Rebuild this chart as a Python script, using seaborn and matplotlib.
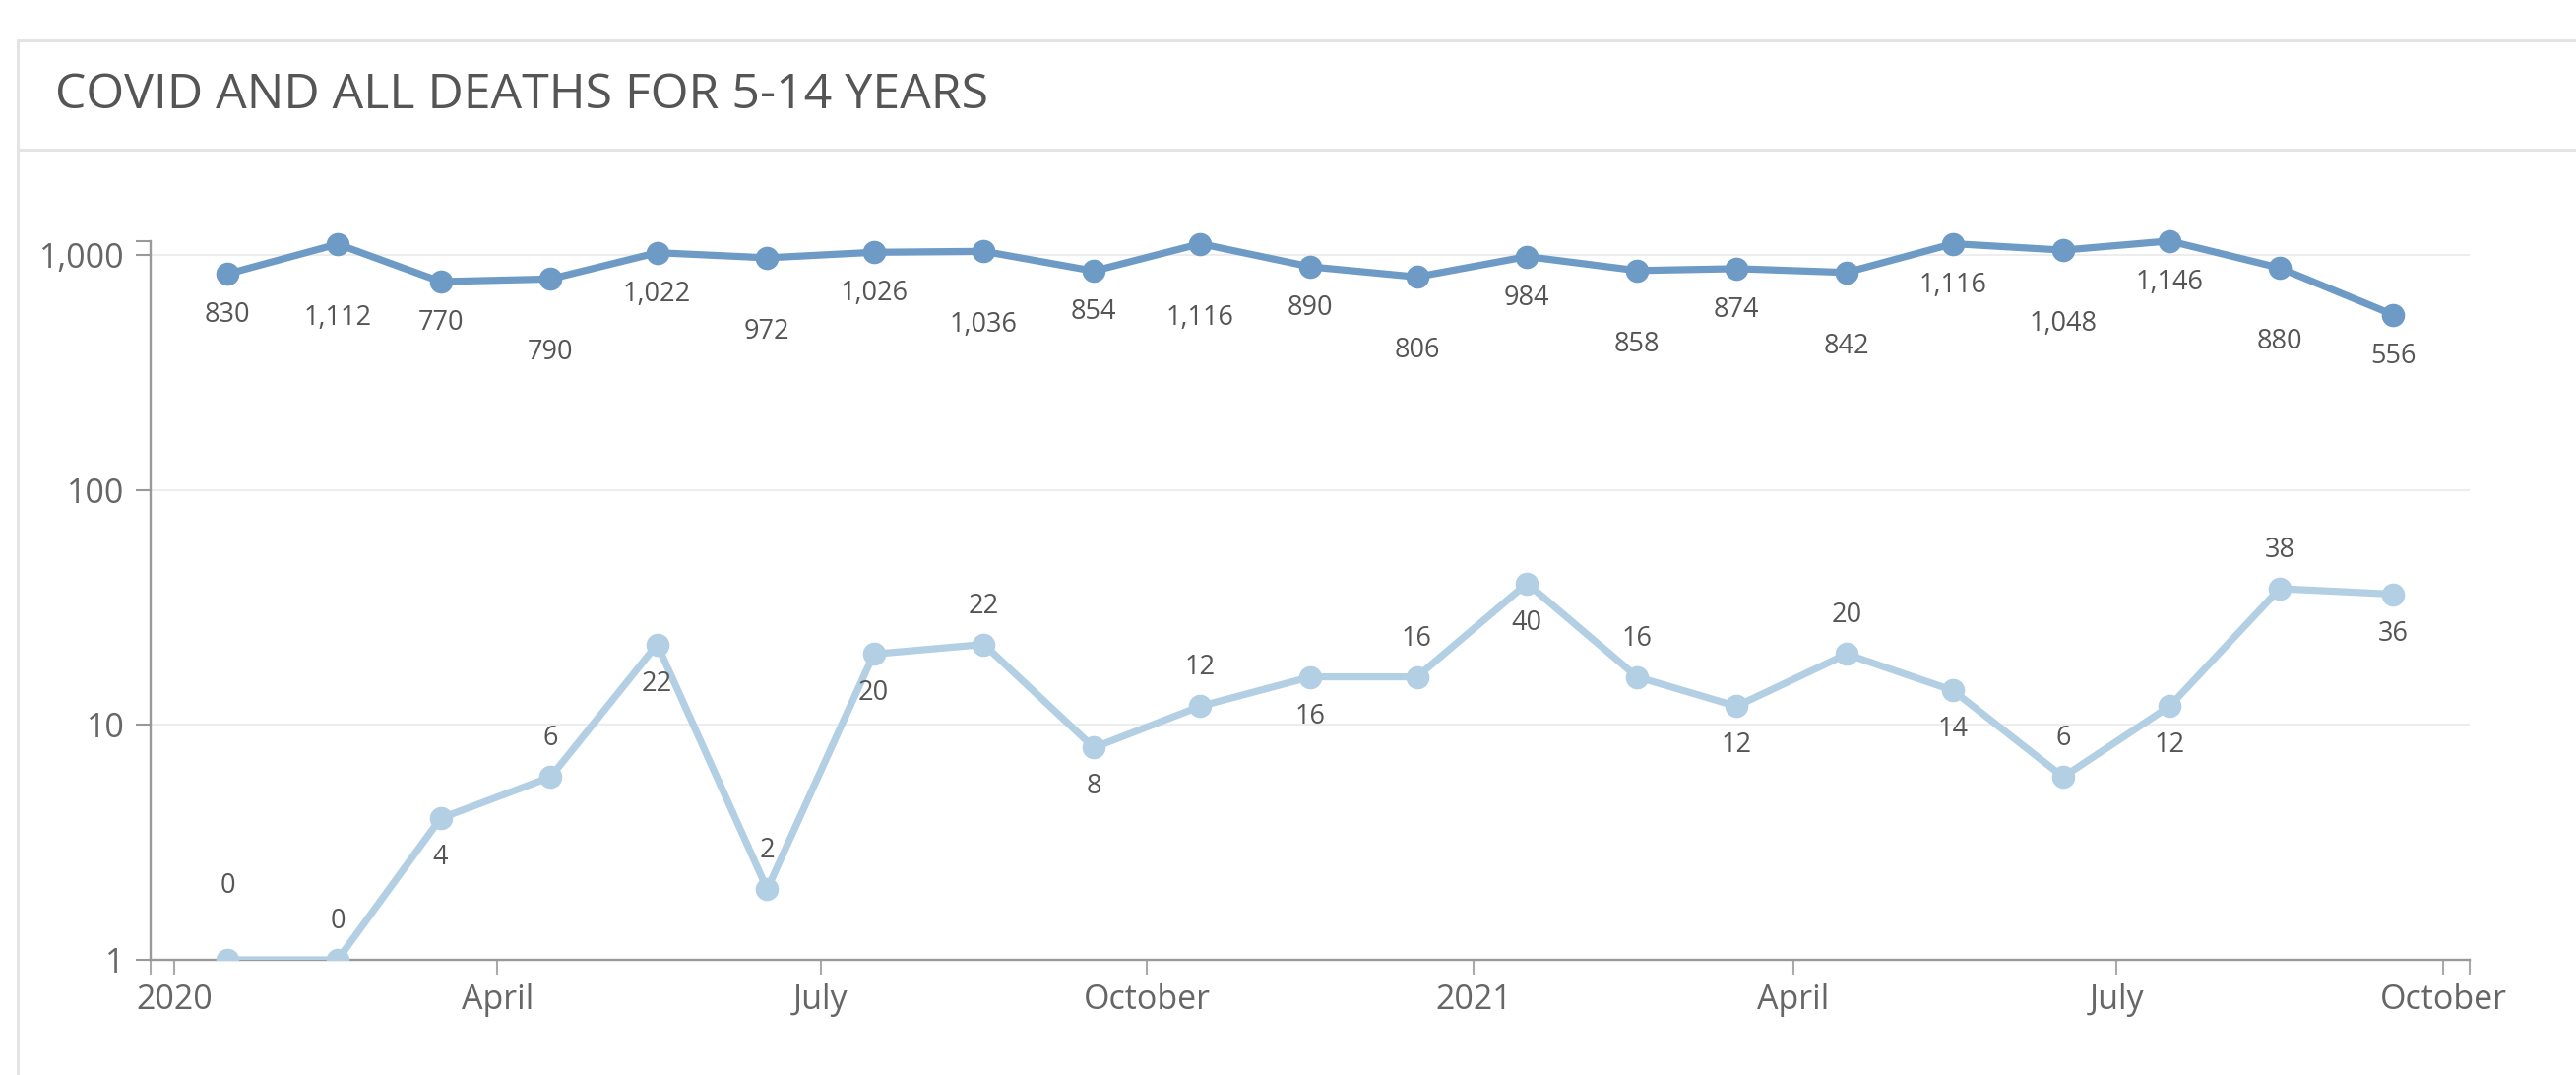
import numpy as np
import pandas as pd
import matplotlib
matplotlib.use("Agg")
import matplotlib.pyplot as plt
import matplotlib.dates as mdates
import matplotlib.ticker as mticker
from matplotlib.lines import Line2D
import seaborn as sns

# ---------------- data ----------------
months = ["2020-01-16", "2020-02-16", "2020-03-16", "2020-04-16", "2020-05-16",
          "2020-06-16", "2020-07-16", "2020-08-16", "2020-09-16", "2020-10-16",
          "2020-11-16", "2020-12-16", "2021-01-16", "2021-02-16", "2021-03-16",
          "2021-04-16", "2021-05-16", "2021-06-16", "2021-07-16", "2021-08-16",
          "2021-09-17"]
all_deaths = [830, 1112, 770, 790, 1022, 972, 1026, 1036, 854, 1116, 890, 806,
              984, 858, 874, 842, 1116, 1048, 1146, 880, 556]
covid_deaths = [0, 0, 4, 6, 22, 2, 20, 22, 8, 12, 16, 16,
                40, 16, 12, 20, 14, 6, 12, 38, 36]
title = "COVID AND ALL DEATHS FOR 5-14 YEARS"
x_tick_dates = ["2020-01-01", "2020-04-01", "2020-07-01", "2020-10-01",
                "2021-01-01", "2021-04-01", "2021-07-01", "2021-10-01"]
x_tick_labels = ["2020", "April", "July", "October", "2021", "April", "July", "October"]
y_ticks = [1, 10, 100, 1000]

# ---------------- style ----------------
W, H = 2617, 1092
DARK = "#6e9bc6"
LIGHT = "#b3cfe3"
AXIS = "#999999"
TEXT = "#555555"
TICKTXT = "#666666"
BORDER = "#e4e4e4"

sns.set_theme(style="white")
plt.rcParams["font.family"] = ["Open Sans", "DejaVu Sans"]

fig = plt.figure(figsize=(W / 100, H / 100), dpi=100)
fig.patch.set_facecolor("white")

ax_left, ax_right, ax_top, ax_bottom = 153, 2509, 245, 975
ax = fig.add_axes([ax_left / W, (H - ax_bottom) / H,
                   (ax_right - ax_left) / W, (ax_bottom - ax_top) / H])

df = pd.DataFrame({
    "date": pd.to_datetime(months),
    "all": all_deaths,
    "covid": covid_deaths,
})
df["covid_plot"] = df["covid"].clip(lower=1)

ax.set_yscale("log")
sns.lineplot(data=df, x="date", y="covid_plot", ax=ax, color=LIGHT,
             linewidth=5.2, marker="o", markersize=17, markeredgewidth=0,
             zorder=3)
sns.lineplot(data=df, x="date", y="all", ax=ax, color=DARK,
             linewidth=5.2, marker="o", markersize=17, markeredgewidth=0,
             clip_on=False, zorder=4)

y_top = 1144
ax.set_ylim(1, y_top)
ax.set_xlim(pd.Timestamp("2019-12-25 08:00"), pd.Timestamp("2021-10-08 12:00"))

# y axis
ax.yaxis.set_major_locator(mticker.FixedLocator(y_ticks))
ax.yaxis.set_major_formatter(mticker.FuncFormatter(lambda v, p: f"{v:,.0f}"))
ax.yaxis.set_minor_locator(mticker.FixedLocator([y_top]))
ax.yaxis.set_minor_formatter(mticker.NullFormatter())

# x axis
xt = mdates.date2num(pd.to_datetime(x_tick_dates))
ax.xaxis.set_major_locator(mticker.FixedLocator(xt))
ax.xaxis.set_major_formatter(mticker.FixedFormatter(x_tick_labels))
xl = ax.get_xlim()
ax.xaxis.set_minor_locator(mticker.FixedLocator([xl[0], xl[1]]))
ax.xaxis.set_minor_formatter(mticker.NullFormatter())

ax.set_xlabel("")
ax.set_ylabel("")
if ax.get_legend() is not None:
    ax.get_legend().remove()

ax.grid(False)
ax.yaxis.grid(True, which="major", color="#ededed", linewidth=1.5, zorder=0)
ax.set_axisbelow(True)

for s in ["top", "right"]:
    ax.spines[s].set_visible(False)
for s in ["left", "bottom"]:
    ax.spines[s].set_color(AXIS)
    ax.spines[s].set_linewidth(1.7)

ax.tick_params(axis="y", which="both", direction="out", length=11, width=1.5,
               color=AXIS, pad=8, labelsize=24.5, labelcolor=TICKTXT, left=True)
ax.tick_params(axis="x", which="both", direction="out", length=11, width=1.5,
               color="#aaaaaa", pad=6, labelsize=24.5, labelcolor=TICKTXT, bottom=True)

# data labels
for i, (d, v) in enumerate(zip(df["date"], df["all"])):
    dy = -42 if i % 2 == 0 else -75
    ax.annotate(f"{v:,}", (d, v), xytext=(0, dy), textcoords="offset pixels",
                ha="center", va="center", fontsize=19.5, color=TEXT,
                annotation_clip=False, zorder=5)

for i, (d, v, vp) in enumerate(zip(df["date"], df["covid"], df["covid_plot"])):
    if i == 0:
        dy = 75
    elif i % 2 == 1:
        dy = 39
    else:
        dy = -40
    ax.annotate(f"{v:,}", (d, vp), xytext=(0, dy), textcoords="offset pixels",
                ha="center", va="center", fontsize=19.5, color=TEXT,
                annotation_clip=False, zorder=5)

# panel borders and title
lw_b = 2.2
fig.add_artist(Line2D([18 / W, 1], [1 - 41 / H, 1 - 41 / H], transform=fig.transFigure,
                      color=BORDER, linewidth=lw_b))
fig.add_artist(Line2D([18 / W, 18 / W], [0, 1 - 41 / H], transform=fig.transFigure,
                      color=BORDER, linewidth=lw_b))
fig.add_artist(Line2D([18 / W, 1], [1 - 152 / H, 1 - 152 / H], transform=fig.transFigure,
                      color=BORDER, linewidth=lw_b))
fig.text(56 / W, 1 - 110 / H, title, ha="left", va="baseline",
         fontsize=36, color=TEXT)

fig.savefig("out.png", dpi=100, facecolor="white")
